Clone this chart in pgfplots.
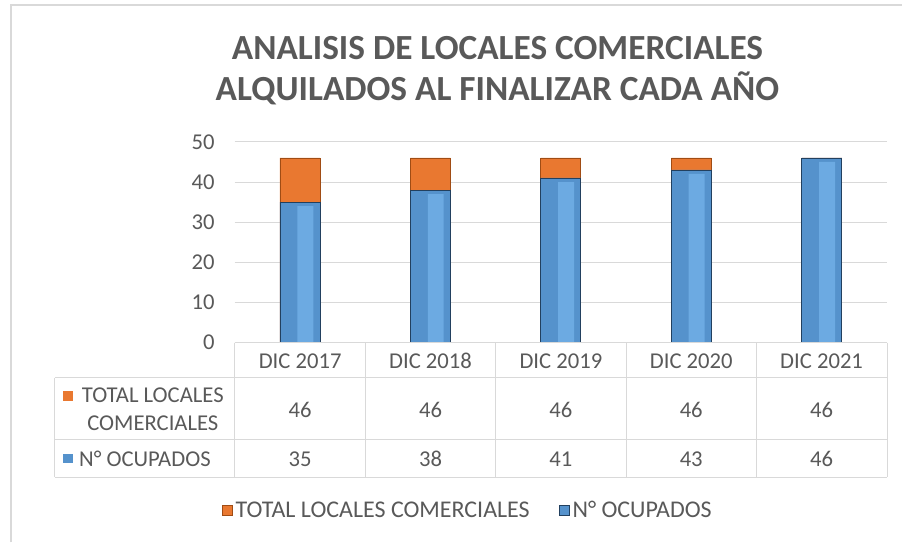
\documentclass[border=0pt]{standalone}
\usepackage{pgfplots}
\usepackage{pgfplotstable}
\pgfplotsset{compat=1.18}
\usepackage{fontspec}
\setmainfont{Carlito}

\definecolor{txt}{HTML}{595959}
\definecolor{gridc}{HTML}{D9D9D9}
\definecolor{frame}{HTML}{D9D9D9}
\definecolor{blueM}{HTML}{5592CC}
\definecolor{blueR}{HTML}{6CAAE2}
\definecolor{blueD}{HTML}{22405F}
\definecolor{orM}{HTML}{E97830}
\definecolor{orD}{HTML}{A04C14}

\newcommand\tfont{\fontsize{17}{21}\selectfont}
\newcommand\lfont{\fontsize{18}{22}\selectfont}

\pgfplotstableread{
x total ocup
1 46 35
2 46 38
3 46 41
4 46 43
5 46 46
}\locales

\begin{document}
\begin{tikzpicture}
% page frame in pixel units of the reference (origin of axis at px 235,343)
\begin{scope}[x=0.75pt, y=-0.75pt, shift={(-235,-343)}]
  \useasboundingbox (0,0) rectangle (903,543);
\end{scope}

\begin{axis}[
    at={(0,0)}, anchor=south west,
    scale only axis,
    width=489.75pt, height=150.75pt,
    xmin=0.5, xmax=5.5,
    ymin=0, ymax=50,
    axis line style={draw=none},
    xtick=\empty,
    ytick={0,10,...,50},
    major tick length=0pt,
    ymajorgrids,
    grid style={gridc, line width=0.75pt},
    yticklabel style={font=\tfont, text=txt, inner sep=0pt, xshift=-15pt},
    /pgf/number format/assume math mode=true,
    legend style={at={(0.358,-0.836)}, anchor=center, draw=none, fill=none,
        legend columns=2, font=\lfont, text=txt,
        /tikz/every even column/.append style={column sep=20pt},
        legend cell align=left},
    legend image code/.code={\fill[#1] (0pt,-3.75pt) rectangle (7.5pt,3.75pt);},
]
    \addplot[ybar, bar width=30pt, bar shift=0pt, fill=orM,
        draw=orD, line width=0.6pt] table[x=x, y=total] {\locales};
    \addlegendentry{TOTAL LOCALES COMERCIALES}
    \addplot[ybar, bar width=30pt, bar shift=0pt, fill=blueM,
        draw=blueD, line width=0.6pt] table[x=x, y=ocup] {\locales};
    \addlegendentry{N° OCUPADOS}
    % lighter bevel strip on the blue bars
    \addplot[ybar, bar width=12pt, bar shift=4pt, fill=blueR, draw=none,
        forget plot] table[x=x, y expr=\thisrow{ocup}-1] {\locales};
\end{axis}

\begin{scope}[x=0.75pt, y=-0.75pt, shift={(-235,-343)}]
  % chart frame
  \draw[frame, line width=1.5pt] (11,543) -- (11,5) -- (903,5);
  % title
  \node[font=\fontsize{26.5}{32}\selectfont\bfseries, text=txt] at (498,48)
    {ANALISIS DE LOCALES COMERCIALES};
  \node[font=\fontsize{26.5}{32}\selectfont\bfseries, text=txt] at (498,88)
    {ALQUILADOS AL FINALIZAR CADA AÑO};
  % data table
  \begin{scope}[gridc, line width=0.75pt]
    \draw (235,343) -- (888,343);
    \draw (55,378) -- (888,378);
    \draw (55,440) -- (888,440);
    \draw (55,478) -- (888,478);
    \draw (55,378) -- (55,478);
    \foreach \xx in {235,366,496,627,757,888} \draw (\xx,343) -- (\xx,478);
  \end{scope}
  \foreach \cx/\lab/\ta/\oc in {300.5/DIC 2017/46/35, 431/DIC 2018/46/38,
      561.5/DIC 2019/46/41, 692/DIC 2020/46/43, 822.5/DIC 2021/46/46} {
    \node[font=\tfont, text=txt, anchor=base, inner sep=0pt] at (\cx,369) {\lab};
    \node[font=\tfont, text=txt, anchor=base, inner sep=0pt] at (\cx,418) {\ta};
    \node[font=\tfont, text=txt, anchor=base, inner sep=0pt] at (\cx,467) {\oc};
  }
  \node[font=\tfont, text=txt, align=center, inner sep=0pt] at (153,410)
    {TOTAL LOCALES\\COMERCIALES};
  \node[font=\tfont, text=txt, anchor=base west, inner sep=0pt] at (79,467) {N° OCUPADOS};
  \fill[orM] (63,391) rectangle (73,401);
  \fill[blueM] (63,454) rectangle (73,464);
\end{scope}
\end{tikzpicture}
\end{document}
